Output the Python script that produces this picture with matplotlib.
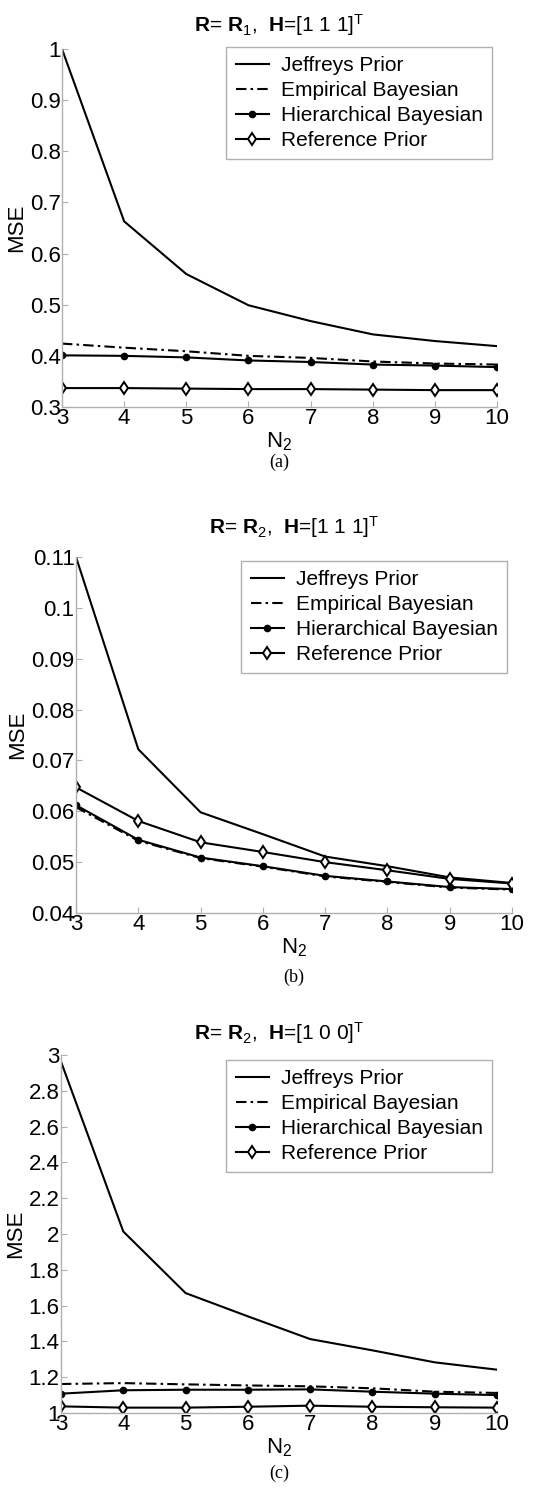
import matplotlib
matplotlib.use("Agg")
import matplotlib.pyplot as plt
from matplotlib.ticker import FixedLocator, FuncFormatter

plt.rcParams['font.family'] = ['Liberation Sans', 'DejaVu Sans']
plt.rcParams['mathtext.fontset'] = 'custom'
plt.rcParams['mathtext.rm'] = 'Liberation Sans'
plt.rcParams['mathtext.bf'] = 'Liberation Sans:bold'
plt.rcParams['mathtext.it'] = 'Liberation Sans:italic'

N2 = [3, 4, 5, 6, 7, 8, 9, 10]
labels = ["Jeffreys Prior", "Empirical Bayesian", "Hierarchical Bayesian", "Reference Prior"]

# Panel (a)
a_jeffreys = [1.0, 0.663, 0.560, 0.499, 0.468, 0.442, 0.429, 0.419]
a_empirical = [0.424, 0.416, 0.409, 0.400, 0.396, 0.389, 0.385, 0.383]
a_hier = [0.401, 0.400, 0.397, 0.391, 0.388, 0.383, 0.381, 0.378]
a_ref = [0.337, 0.337, 0.336, 0.335, 0.335, 0.334, 0.333, 0.333]

# Panel (b)
b_jeffreys = [0.110, 0.0722, 0.0598, 0.0555, 0.0511, 0.0492, 0.0470, 0.0459]
b_empirical = [0.0608, 0.0542, 0.0508, 0.0491, 0.0472, 0.0461, 0.0450, 0.0446]
b_hier = [0.0612, 0.0544, 0.0509, 0.0492, 0.0473, 0.0462, 0.0451, 0.0447]
b_ref = [0.0647, 0.0581, 0.0539, 0.0520, 0.0500, 0.0484, 0.0467, 0.0458]

# Panel (c)
c_jeffreys = [2.963, 2.014, 1.670, 1.540, 1.413, 1.350, 1.283, 1.242]
c_empirical = [1.162, 1.167, 1.160, 1.154, 1.149, 1.138, 1.119, 1.112]
c_hier = [1.108, 1.127, 1.130, 1.130, 1.132, 1.119, 1.108, 1.100]
c_ref = [1.037, 1.030, 1.030, 1.035, 1.041, 1.035, 1.032, 1.030]

a_yticks = [0.3, 0.4, 0.5, 0.6, 0.7, 0.8, 0.9, 1.0]
b_yticks = [0.04, 0.05, 0.06, 0.07, 0.08, 0.09, 0.10, 0.11]
c_yticks = [1.0, 1.2, 1.4, 1.6, 1.8, 2.0, 2.2, 2.4, 2.6, 2.8, 3.0]

titles = [r'$\mathbf{R}$= $\mathbf{R}_1$,  $\mathbf{H}$=[1 1 1]$^\mathrm{T}$',
          r'$\mathbf{R}$= $\mathbf{R}_2$,  $\mathbf{H}$=[1 1 1]$^\mathrm{T}$',
          r'$\mathbf{R}$= $\mathbf{R}_2$,  $\mathbf{H}$=[1 0 0]$^\mathrm{T}$']
captions = ["(a)", "(b)", "(c)"]

W, H = 544, 1494
fig = plt.figure(figsize=(W / 100, H / 100), dpi=100)

# pixel boxes: left, right, top, bottom
boxes = [(62, 497, 49, 407), (76, 512, 557, 913), (61, 497, 1055, 1413)]
legend_anchor = [(0.9885, 1.0056), (0.9885, 0.9888), (0.9885, 0.986)]
caption_y = [462, 977, 1473]
title_y = [25, 527, 1033]

panels = [
    (a_jeffreys, a_empirical, a_hier, a_ref, a_yticks, (0.3, 1.0)),
    (b_jeffreys, b_empirical, b_hier, b_ref, b_yticks, (0.04, 0.11)),
    (c_jeffreys, c_empirical, c_hier, c_ref, c_yticks, (1.0, 3.0)),
]

grey = '#b0b0b0'
fs = 16
for i, (jf, em, hi, rf, yt, ylim) in enumerate(panels):
    l, r, t, b = boxes[i]
    ax = fig.add_axes([l / W, 1 - b / H, (r - l) / W, (b - t) / H])
    lw = 1.5
    ax.plot(N2, jf, '-', color='black', lw=lw, label=labels[0])
    ax.plot(N2, em, color='black', lw=lw, linestyle=(0, (5, 2, 1.2, 2)), label=labels[1])
    ax.plot(N2, hi, '-', color='black', lw=lw, marker='o', markersize=4.5,
            markerfacecolor='black', label=labels[2])
    ax.plot(N2, rf, '-', color='black', lw=lw, marker='d', markersize=6,
            markerfacecolor='white', markeredgewidth=1.4, label=labels[3])
    ax.set_xlim(3, 10)
    ax.set_ylim(*ylim)
    ax.xaxis.set_major_locator(FixedLocator(N2))
    ax.yaxis.set_major_locator(FixedLocator(yt))
    ax.yaxis.set_major_formatter(FuncFormatter(lambda v, p: ('%.2f' % v).rstrip('0').rstrip('.')))
    for s in ['top', 'right']:
        ax.spines[s].set_visible(False)
    for s in ['left', 'bottom']:
        ax.spines[s].set_color(grey)
        ax.spines[s].set_linewidth(1.0)
    ax.tick_params(direction='in', length=4, width=0.8, color=grey, labelsize=fs, pad=1)
    ax.set_xlabel(r'N$_2$', fontsize=fs, labelpad=1)
    ax.set_ylabel('MSE', fontsize=fs, labelpad=2)
    fig.text(0.5 * (l + r) / W, 1 - title_y[i] / H, titles[i], ha='center', va='center',
             fontsize=15)
    leg = ax.legend(loc='upper right', bbox_to_anchor=legend_anchor[i], fontsize=15,
                    fancybox=False, framealpha=1, edgecolor=grey, borderpad=0.45,
                    labelspacing=0.28, handlelength=1.6, handletextpad=0.55,
                    borderaxespad=0)
    leg.get_frame().set_linewidth(1.0)
    fig.text(0.5 * (l + r) / W, 1 - caption_y[i] / H, captions[i],
             ha='center', va='center', fontsize=13, family='Liberation Serif')

fig.savefig('out.png', dpi=100)
